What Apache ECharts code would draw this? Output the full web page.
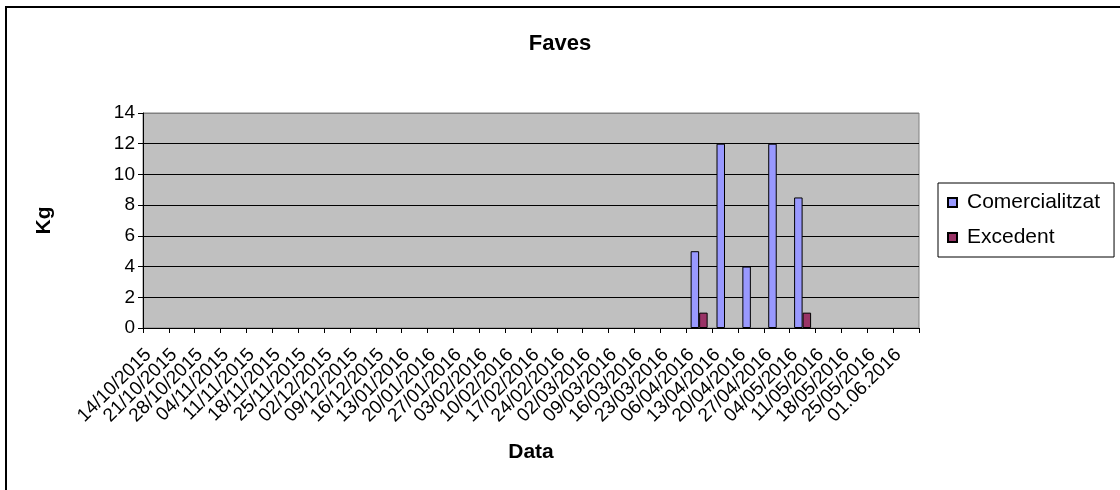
<!DOCTYPE html>
<html>
<head>
<meta charset="utf-8">
<script src="https://cdn.jsdelivr.net/npm/echarts@6/dist/echarts.min.js"></script>
<style>
html,body{margin:0;padding:0;background:#fff;}
#c{width:1120px;height:490px;}
</style>
</head>
<body>
<div id="c"></div>
<script>
var categories = ['14/10/2015','21/10/2015','28/10/2015','04/11/2015','11/11/2015','18/11/2015','25/11/2015','02/12/2015','09/12/2015','16/12/2015','13/01/2016','20/01/2016','27/01/2016','03/02/2016','10/02/2016','17/02/2016','24/02/2016','02/03/2016','09/03/2016','16/03/2016','23/03/2016','06/04/2016','13/04/2016','20/04/2016','27/04/2016','04/05/2016','11/05/2016','18/05/2016','25/05/2016','01.06.2016'];
var comercialitzat = [null,null,null,null,null,null,null,null,null,null,null,null,null,null,null,null,null,null,null,null,null,5,12,4,12,8.5,null,null,null,null];
var excedent = [null,null,null,null,null,null,null,null,null,null,null,null,null,null,null,null,null,null,null,null,null,1,null,null,null,1,null,null,null,null];
var yTicks = [0,2,4,6,8,10,12,14];

var chart = echarts.init(document.getElementById('c'), null, {renderer:'canvas'});
var F = 'Arial, "Liberation Sans", sans-serif';
chart.setOption({
  animation:false,
  backgroundColor:'#fff',
  graphic:[{type:'rect', shape:{x:6,y:7,width:1200,height:600}, style:{fill:'none', stroke:'#000', lineWidth:2}, z:-1}],
  title:{text:'Faves', left:'center', top:33, padding:0, textStyle:{fontFamily:F, fontSize:22, fontWeight:'bold', color:'#000'}},
  legend:{orient:'vertical', left:938, top:183, padding:[9,14,9,9], itemGap:14, itemWidth:9, itemHeight:9, icon:'rect',
    borderColor:'#000', borderWidth:1,
    textStyle:{fontFamily:F, fontSize:21, color:'#000', padding:[0,0,0,5]}},
  grid:{left:143, right:201, top:113, bottom:162, show:true, backgroundColor:'#c0c0c0', borderColor:'#808080', borderWidth:1},
  xAxis:{type:'category', data:categories, boundaryGap:true,
    name:'Data', nameLocation:'middle', nameGap:114,
    nameTextStyle:{fontFamily:F, fontSize:21, fontWeight:'bold', color:'#000'},
    axisLine:{lineStyle:{color:'#000', width:1}},
    axisTick:{show:true, length:5, lineStyle:{color:'#000'}},
    axisLabel:{interval:0, rotate:45, margin:16, padding:[0,11,0,0], fontFamily:F, fontSize:19, color:'#000'}},
  yAxis:{type:'value', min:0, max:14, interval:2,
    name:'Kg', nameLocation:'middle', nameGap:88,
    nameTextStyle:{fontFamily:F, fontSize:21, fontWeight:'bold', color:'#000'},
    axisLine:{show:true, lineStyle:{color:'#000', width:1}},
    axisTick:{show:true, length:5, lineStyle:{color:'#000'}},
    splitLine:{show:true, lineStyle:{color:['#000','#000','#000','#000','#000','#000','#000','#808080'], width:1}},
    axisLabel:{margin:8, fontFamily:F, fontSize:19, color:'#000',
      formatter:function(v){return yTicks.indexOf(v)>=0?String(v):'';}}},
  series:[
    {name:'Comercialitzat', type:'bar', data:comercialitzat, barWidth:8.5, barGap:'0%',
      itemStyle:{color:'#9999ff', borderColor:'#000', borderWidth:1}},
    {name:'Excedent', type:'bar', data:excedent, barWidth:8.5, barGap:'0%',
      itemStyle:{color:'#993366', borderColor:'#000', borderWidth:1}}
  ]
});
</script>
</body>
</html>
